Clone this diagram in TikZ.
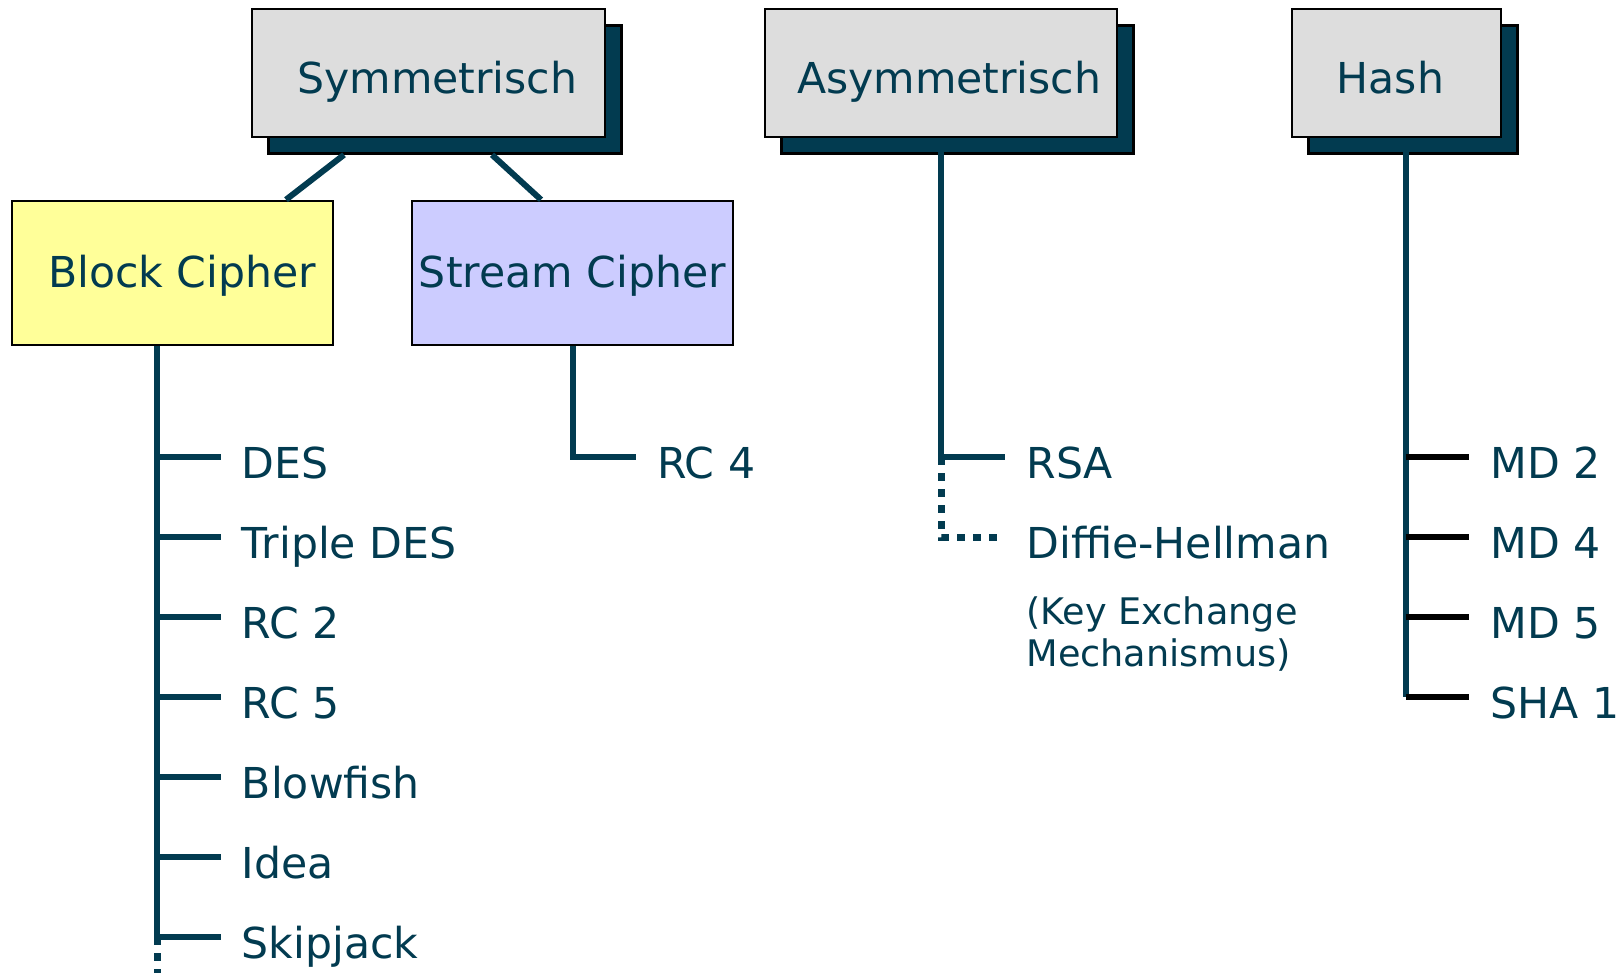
\documentclass[tikz,border=0pt]{standalone}
\usepackage{fontspec}
\setmainfont{DejaVu Sans}
\usetikzlibrary{positioning,shadows}

\definecolor{petrol}{RGB}{2,59,80}
\definecolor{kopfgrau}{RGB}{221,221,221}
\definecolor{blockgelb}{RGB}{255,255,153}
\definecolor{streamlila}{RGB}{204,204,255}

\tikzset{
  kopf/.style={draw=black, line width=1.3pt, fill=kopfgrau, inner sep=0pt,
    minimum height=64pt, text height=21pt, text depth=0pt,
    drop shadow={shadow xshift=8.25pt, shadow yshift=-8.25pt, fill=petrol, draw=black, opacity=1}},
  art/.style={draw=black, line width=1.3pt, inner sep=0pt, minimum width=160.5pt,
    minimum height=72pt, text height=14pt, text depth=0pt},
  eintrag/.style={anchor=west, inner sep=0pt, text height=21pt, text depth=0pt},
  ast/.style={petrol, line width=3pt},
  punkte/.style={petrol, line width=3.5pt, dash pattern=on 4pt off 4pt},
}

\begin{document}
\begin{tikzpicture}[x=0.5pt, y=-0.5pt, font=\fontsize{21.3pt}{26pt}\selectfont, text=petrol]
\useasboundingbox (0,0) rectangle (1620,973);
\coordinate (unten) at (0,973);
% Kategorien (Text leicht aus der Mitte, wie im Original)
\node[kopf, minimum width=176.5pt] (sym) at (428.5,73) {\hspace*{8.8pt}Symmetrisch};
\node[kopf, minimum width=176pt] (asym) at (941,73) {\hspace*{8.2pt}Asymmetrisch};
\node[kopf, minimum width=104.5pt] (hash) at (1396.5,73) {Hash\hspace*{6.2pt}};
\node[art, fill=blockgelb] (block) at (172.5,273) {\hspace*{9.6pt}Block Cipher};
\node[art, fill=streamlila] (stream) at (572.5,273) {Stream Cipher};
\draw[ast] ([xshift=-42.25pt, yshift=-8.25pt]sym.south) -- ([xshift=56.75pt]block.north);
\draw[ast] ([xshift=31.75pt, yshift=-8.25pt]sym.south) -- ([xshift=-15.75pt]stream.north);

% Block Cipher
\foreach \n/\t [count=\i] in {des/DES, tdes/Triple DES, rc2/RC 2, rc5/RC 5, blow/Blowfish, idea/Idea, skip/Skipjack}
  \node[eintrag] (\n) at (241.5,{377+80*\i}) {\t};
\coordinate (bcstamm) at ([xshift=-7.75pt]block.south);
\draw[ast] (bcstamm) -- (bcstamm |- skip.west);
\draw[punkte] (bcstamm |- skip.west) -- (bcstamm |- unten);
\foreach \n in {des,tdes,rc2,rc5,blow,idea,skip}
  \draw[ast] (bcstamm |- \n.west) -- ([xshift=-10.5pt]\n.west);

% Stream Cipher
\node[eintrag] (rc4) at (657,457) {RC 4};
\draw[ast] (stream.south) |- ([xshift=-10.5pt]rc4.west);

% Asymmetrisch
\node[eintrag] (rsa) at (1026,457) {RSA};
\node[eintrag] (dh) at (1026,537) {Diffie-Hellman};
\node[anchor=north west, inner sep=0pt, align=left, font=\fontsize{18.3pt}{21pt}\selectfont] (kem) at (1026,596) {(Key Exchange\\Mechanismus)};
\draw[ast] (asym.south) |- ([xshift=-10.5pt]rsa.west);
\draw[punkte] (asym.south |- rsa.west) |- ([xshift=-14.5pt]dh.west);

% Hash
\foreach \n/\t [count=\i] in {md2/MD 2, md4/MD 4, md5/MD 5, sha/SHA 1}
  \node[eintrag] (\n) at (1490,{377+80*\i}) {\t};
\coordinate (hstamm) at ([xshift=4.5pt]hash.south);
\draw[ast] (hstamm) -- (hstamm |- sha.west);
\foreach \n in {md2,md4,md5,sha}
  \draw[line width=3pt, black] (hstamm |- \n.west) -- ([xshift=-10.5pt]\n.west);
\end{tikzpicture}
\end{document}
